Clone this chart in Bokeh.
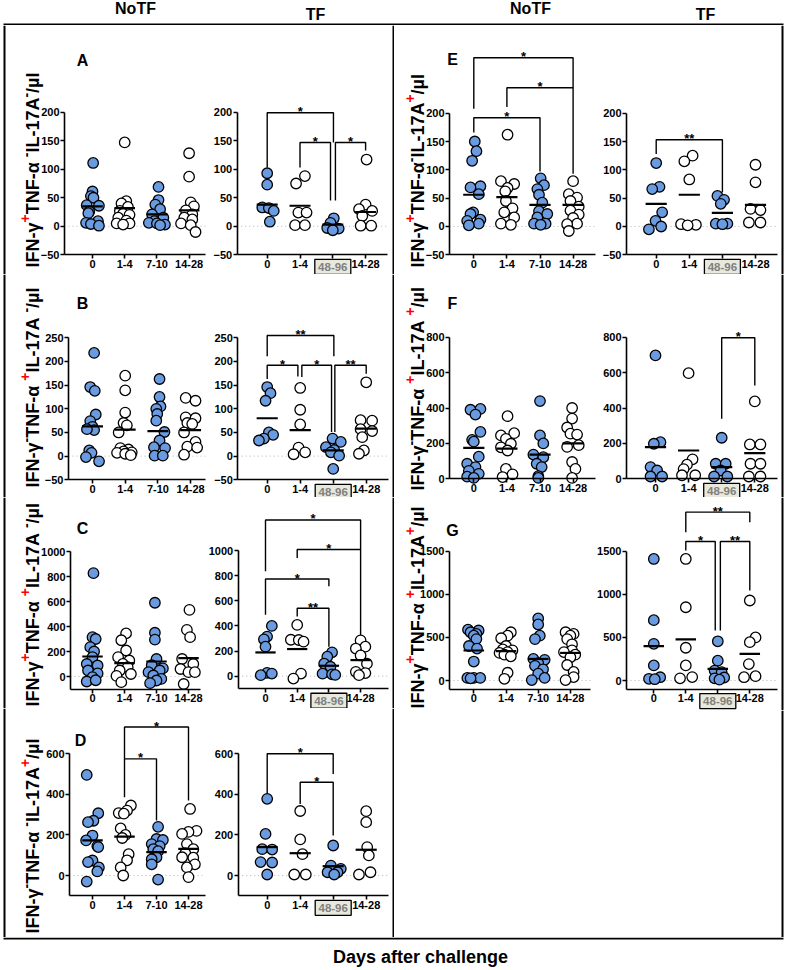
import math
from bokeh.plotting import figure
from bokeh.layouts import row, column
from bokeh.models import Range1d, FixedTicker, ColumnDataSource
from bokeh.core.properties import value, field
from bokeh.embed import file_html
from bokeh.resources import INLINE

FONT = "Liberation Sans"
BLUE = "#6a9be0"

# ------------------------------------------------------------------ data
NOTF_TICKS = ["0", "1-4", "7-10", "14-28"]
TF_TICKS = ["0", "1-4", "48-96", "14-28"]
HEADERS = ["NoTF", "TF", "NoTF", "TF"]
XTITLE = "Days after challenge"

# Panel A  IFN-g+ TNF-a- IL-17A-
A_notf_values = [[111, 61, 53, 50, 37, 36, 26, 23, 9, 6, 4, 1],
                 [147, 44, 40, 34, 27, 22, 20, 15, 10, 5, 5, 3],
                 [69, 46, 38, 30, 21, 15, 9, 6, 5, 3, 2],
                 [128, 87, 42, 35, 28, 21, 15, 12, 5, 2, -10]]
A_notf_offsets = [[0.02, 0, -0.05, 0.03, -0.18, 0.2, -0.1, -0.13, 0.17, -0.2, -0.05, 0.2],
                  [0, 0.05, -0.1, 0.1, -0.15, -0.05, 0.15, -0.2, 0.05, -0.25, 0.15, -0.05],
                  [0.05, 0.05, -0.05, 0.1, -0.15, 0.2, -0.08, -0.25, 0, 0.25, 0.1],
                  [0, 0, 0.05, 0.15, -0.1, 0.1, -0.15, 0.1, -0.25, 0.05, 0.2]]
A_notf_means = [35, 32, 21, 28]
A_tf_values = [[93, 73, 33, 32, 27, 8],
               [88, 75, 24, 24, 2, 2],
               [14, 6, -3, -4, -7],
               [117, 38, 30, 27, 18, 1, 1]]
A_tf_offsets = [[0, 0, -0.15, 0.05, 0.2, 0.08],
                [0.15, -0.12, -0.05, 0.2, -0.15, 0.15],
                [0.03, -0.07, -0.17, 0.18, 0],
                [0.03, 0, -0.2, 0.2, -0.1, -0.15, 0.17]]
A_tf_means = [38, 36, 3, 25]
A_tf_brackets = [(0, 2.02, 199, 103, 147, "*"),
                 (1, 1.93, 147, 103, 45, "*"),
                 (2.08, 3, 147, 45, 133, "*")]

# Panel B  IFN-g- TNF-a+ IL-17A-
B_notf_values = [[218, 146, 138, 88, 74, 62, 55, 57, 12, 7, -2, -11],
                 [170, 139, 92, 70, 65, 50, 17, 14, 10, 8, 7, 5, 2],
                 [163, 125, 105, 100, 89, 75, 51, 33, 19, 17, 1, 1],
                 [123, 117, 82, 80, 70, 68, 50, 30, 20, 18, 3]]
B_notf_offsets = [[0.05, -0.07, 0.07, 0.1, -0.07, 0, 0.05, -0.17, -0.1, -0.03, -0.2, 0.2],
                  [0, 0, 0, -0.05, 0.05, -0.2, -0.15, 0.1, -0.05, 0.2, -0.25, 0, 0.17],
                  [0.05, 0.05, 0.08, -0.05, -0.02, -0.05, 0.2, 0.05, -0.12, 0.22, -0.1, 0.15],
                  [-0.15, 0.15, -0.15, 0.15, -0.1, 0.05, -0.2, 0.15, -0.1, 0.2, -0.2]]
B_notf_means = [63, 56, 53, 55]
B_tf_values = [[146, 133, 117, 50, 45, 37, 33],
               [144, 98, 67, 18, 8, 4],
               [37, 30, 19, 13, 8, 1, -27],
               [156, 76, 75, 57, 53, 40, 12, 5]]
B_tf_offsets = [[0, 0.1, -0.05, 0.05, 0.18, -0.1, -0.25],
                [0, 0, 0, -0.05, 0.15, -0.2],
                [-0.02, 0.23, -0.22, 0.03, -0.07, 0.18, 0],
                [0, -0.17, 0.18, -0.17, 0.18, -0.12, -0.07, -0.22]]
B_tf_means = [80, 55, 12, 58]
B_tf_brackets = [(0, 2.02, 255, 211, 211, "**"),
                 (0, 0.93, 192, 163, 168, "*"),
                 (1.05, 1.95, 192, 167, 51, "*"),
                 (2.05, 3, 192, 51, 174, "**")]

# Panel C  IFN-g+ TNF-a+ IL-17A-
C_notf_values = [[827, 315, 300, 235, 200, 155, 100, 88, 48, 25, -5, -40, -30],
                 [345, 290, 208, 155, 128, 101, 75, 48, 20, 5, -45],
                 [590, 350, 295, 140, 90, 65, 48, 35, 8, -19, -32, -53],
                 [533, 373, 315, 140, 100, 60, 35, 35, -60]]
C_notf_offsets = [[0.03, 0, 0.1, -0.07, 0.05, 0, -0.18, 0.16, -0.14, 0.16, 0, -0.18, 0.1],
                  [0.05, -0.1, 0.05, -0.2, 0.15, -0.05, 0.1, -0.15, 0.2, -0.25, -0.1],
                  [-0.05, -0.05, -0.05, 0, -0.15, 0.2, 0.1, -0.25, -0.1, 0.15, 0, -0.2],
                  [0.03, -0.05, 0.05, -0.2, 0.15, -0.25, 0, 0.2, -0.15]]
C_notf_means = [160, 107, 120, 147]
C_tf_values = [[400, 315, 293, 235, 27, 21, 8],
               [408, 290, 288, 275, 21, -19],
               [190, 155, 100, 75, 20, 15, 10],
               [285, 235, 220, 165, 100, 35, 25, 8]]
C_tf_offsets = [[0.2, 0.05, -0.05, 0, 0.05, 0.2, -0.15],
                [0, -0.2, 0.05, 0.2, 0.12, -0.12],
                [0.1, -0.05, -0.15, 0.05, -0.2, 0.1, 0.2],
                [0, 0.15, -0.15, 0, 0.2, -0.15, 0.15, -0.05]]
C_tf_means = [189, 216, 83, 128]
C_tf_brackets = [(0, 3, 1243, 835, 1008, "*"),
                 (1, 3, 1008, 941, 328, "*"),
                 (0, 2, 773, 488, 715, "*"),
                 (1, 2, 541, 475, 235, "**")]

# Panel D  IFN-g- TNF-a- IL-17A+
D_notf_values = [[496, 307, 270, 263, 197, 173, 145, 140, 74, 66, 40, 20, -30],
                 [345, 320, 308, 305, 232, 200, 185, 105, 75, 40, 0],
                 [240, 180, 175, 155, 145, 130, 120, 90, 80, 55, -20],
                 [328, 220, 215, 205, 155, 130, 110, 90, 88, 55, 40, -8]]
D_notf_offsets = [[-0.18, 0.18, 0.03, -0.14, 0, -0.2, 0.15, 0.18, 0, -0.14, 0.2, 0.15, -0.18],
                  [0.2, 0.08, -0.18, -0.02, -0.12, 0.03, -0.07, 0.13, 0.08, -0.12, -0.04],
                  [0.05, 0, 0.2, -0.15, 0.1, -0.1, 0.05, 0, -0.15, -0.15, 0.05],
                  [0.05, 0.25, 0, -0.2, -0.05, 0.15, -0.1, -0.2, 0.15, 0.2, -0.05, 0]]
D_notf_means = [173, 192, 115, 131]
D_notf_brackets = [(1, 3, 732, 575, 370, "*"),
                   (1, 2, 575, 386, 271, "*")]
D_tf_values = [[378, 205, 130, 128, 66, 64, 5],
               [318, 178, 105, 5, 5],
               [148, 49, 33, 16, 16, 5],
               [317, 263, 140, 99, 16, 5]]
D_tf_offsets = [[0, -0.05, -0.15, 0.15, -0.2, 0.15, 0],
                [0, 0, 0.07, -0.18, 0.17],
                [0, -0.07, 0.23, -0.17, 0.13, 0.03],
                [0, 0, 0.03, 0.08, 0.13, -0.22]]
D_tf_means = [140, 110, 46, 127]
D_tf_brackets = [(0, 2, 600, 406, 501, "*"),
                 (1, 2, 460, 353, 197, "*")]

# Panel E  IFN-g+ TNF-a- IL-17A+
E_notf_values = [[150, 133, 116, 71, 69, 57, 25, 22, 12, 10, 5, 2],
                 [162, 80, 75, 68, 62, 45, 32, 25, 16, 5, 3],
                 [85, 73, 66, 56, 42, 27, 22, 16, 5, 5, 3],
                 [80, 57, 51, 45, 35, 28, 21, 15, 5, 4, -8]]
E_notf_offsets = [[0.03, 0.08, -0.05, 0.2, -0.1, 0.15, -0.02, -0.1, 0.2, -0.2, 0.15, -0.15],
                  [0.02, -0.18, 0.22, 0.02, -0.05, -0.03, 0.17, -0.08, 0.22, -0.18, 0.12],
                  [0.02, 0.12, -0.08, -0.03, 0.07, -0.03, 0.22, -0.08, -0.18, 0.17, 0.02],
                  [0, -0.13, 0.12, -0.08, 0.17, -0.08, 0.17, 0, 0.12, -0.18, -0.13]]
E_notf_means = [56, 52, 38, 38]
E_notf_brackets = [(0, 3, 298, 208, 245, "*"),
                   (1, 3, 245, 211, 93, "*"),
                   (0, 2, 192, 166, 97, "*")]
E_tf_values = [[112, 70, 66, 25, 10, 0, -5],
               [125, 115, 83, 4, 3, 2],
               [54, 47, 40, 5, 5, 4],
               [109, 78, 31, 29, 7, 7]]
E_tf_offsets = [[0, 0.1, -0.12, 0.18, -0.02, 0.15, -0.22],
                [0.1, -0.15, 0, -0.25, 0.2, -0.05],
                [-0.15, 0.05, -0.05, -0.2, 0.15, 0],
                [0, 0, -0.15, 0.15, -0.2, 0.15]]
E_tf_means = [40, 56, 24, 38]
E_tf_brackets = [(0, 2, 153, 128, 60, "**")]

# Panel F  IFN-g- TNF-a+ IL-17A+
F_notf_values = [[395, 390, 363, 265, 220, 210, 125, 85, 66, 45, 28, 12, 5],
                 [354, 258, 245, 226, 198, 178, 160, 56, 25, 10],
                 [439, 245, 200, 137, 122, 85, 66, 15, 5],
                 [400, 340, 290, 255, 250, 190, 180, 95, 56, 5]]
F_notf_offsets = [[0.2, -0.1, 0.05, 0.2, -0.05, 0, 0.15, -0.2, 0.05, -0.15, 0.15, -0.2, 0],
                  [0.02, 0.22, -0.18, -0.03, 0.12, -0.18, 0.02, -0.03, 0.17, -0.13],
                  [0, 0, 0.1, -0.2, 0.1, -0.1, 0.05, -0.05, -0.05],
                  [-0.03, -0.03, -0.18, -0.08, 0.12, 0.17, -0.18, -0.03, 0.07, -0.03]]
F_notf_means = [175, 170, 137, 200]
F_tf_values = [[697, 207, 198, 66, 47, 13, 13],
               [597, 110, 80, 55, 20, 20],
               [232, 85, 85, 47, 13, 13],
               [437, 194, 194, 85, 85, 13, 13]]
F_tf_offsets = [[0, 0.15, -0.05, -0.15, 0.05, -0.15, 0.2],
                [0, 0.12, -0.05, -0.15, -0.2, 0.2],
                [0, -0.18, 0.12, -0.03, -0.23, 0.17],
                [0, -0.15, 0.17, -0.13, 0.17, -0.18, 0.17]]
F_tf_means = [179, 160, 66, 145]
F_tf_brackets = [(2, 3, 797, 339, 527, "*")]

# Panel G  IFN-g+ TNF-a+ IL-17A+
G_notf_values = [[590, 580, 560, 540, 520, 480, 400, 370, 220, 30, 30, 30, 25],
                 [560, 520, 490, 400, 360, 350, 330, 320, 300, 280, 90, 20],
                 [720, 650, 520, 480, 250, 240, 200, 170, 130, 80, 30, 5],
                 [560, 540, 520, 480, 420, 350, 330, 300, 270, 180, 100, 40, 5]]
G_notf_offsets = [[-0.18, 0.15, -0.1, 0.08, 0, 0.08, -0.15, 0.1, 0, -0.2, 0, 0.2, -0.1],
                  [0.15, 0.05, -0.15, 0, -0.1, 0.2, 0.05, -0.2, -0.05, 0.15, 0.05, -0.05],
                  [0, 0, 0.05, -0.1, -0.15, 0.2, 0, -0.1, 0.15, 0, 0.2, -0.2],
                  [-0.15, 0.1, 0, -0.1, 0.05, 0.05, -0.2, 0.15, 0, -0.1, 0.1, 0.1, -0.15]]
G_notf_means = [348, 340, 250, 320]
G_tf_values = [[1410, 700, 425, 175, 38, 20, 15],
               [1410, 850, 380, 175, 40, 25],
               [455, 230, 115, 97, 35, 25, 10],
               [928, 500, 445, 190, 50, 38]]
G_tf_offsets = [[0, 0, 0, 0, 0.2, -0.15, 0.03],
                [0, 0, 0, 0, 0.2, -0.18],
                [0, 0, -0.1, 0.12, 0.2, -0.1, 0.05],
                [0, 0.18, 0, -0.03, 0.18, -0.18]]
G_tf_means = [398, 476, 135, 310]
G_tf_brackets = [(1, 3, 1953, 1720, 1836, "**"),
                 (1, 1.92, 1612, 1508, 580, "*"),
                 (2.08, 3, 1612, 580, 1044, "**")]

# y axis labels: (text, kind) kind m=main, p=red superscript plus, n=superscript minus
A_ylabel = [("IFN-γ", "m"), ("+", "p"), (" TNF-α", "m"), ("-", "n"), ("IL-17A", "m"), ("-", "n"), ("/µl", "m")]
B_ylabel = [("IFN-γ", "m"), ("-", "n"), (" TNF-α", "m"), ("+", "p"), (" IL-17A", "m"), ("-", "n"), (" /µl", "m")]
C_ylabel = [("IFN-γ", "m"), ("+", "p"), (" TNF-α", "m"), ("+", "p"), (" IL-17A", "m"), ("-", "n"), (" /µl", "m")]
D_ylabel = [("IFN-γ", "m"), ("-", "n"), (" TNF-α", "m"), ("-", "n"), ("IL-17A", "m"), ("+", "p"), (" /µl", "m")]
E_ylabel = [("IFN-γ", "m"), ("+", "p"), ("TNF-α", "m"), ("-", "n"), ("IL-17A", "m"), ("+", "p"), (" /µl", "m")]
F_ylabel = [("IFN-γ", "m"), ("-", "n"), (" TNF-α", "m"), ("+", "p"), (" IL-17A", "m"), ("+", "p"), (" /µl", "m")]
G_ylabel = [("IFN-γ", "m"), ("+", "p"), (" TNF-α", "m"), ("+", "p"), ("IL-17A", "m"), ("+", "p"), (" /µl", "m")]

# ------------------------------------------------------------------ layout (pixels)
Y_SMALL = [-50, 0, 50, 100, 150, 200]
GEOM = {
    "A_notf": dict(W=206, H=249, ax=64, c0=92, d=32.2, v1=200, py1=86.7, v2=-50, py2=229.3, ylo=-50, yhi=200, yticks=Y_SMALL, xend=205, vlines=[4]),
    "A_tf": dict(W=188, H=249, ax=30.7, c0=60.7, d=32.8, v1=200, py1=86.7, v2=-50, py2=229.3, ylo=-50, yhi=200, yticks=Y_SMALL, xend=181, vlines=[187]),
    "B_notf": dict(W=206, H=223, ax=68, c0=92, d=32.7, v1=250, py1=63.3, v2=-50, py2=205.3, ylo=-50, yhi=250, yticks=[-50, 0, 50, 100, 150, 200, 250], xend=205, vlines=[4]),
    "B_tf": dict(W=188, H=223, ax=31.3, c0=60.7, d=33, v1=250, py1=63.3, v2=-50, py2=205.3, ylo=-50, yhi=250, yticks=[-50, 0, 50, 100, 150, 200, 250], xend=182, vlines=[187]),
    "C_notf": dict(W=206, H=211, ax=70, c0=92, d=32, v1=1000, py1=54, v2=0, py2=179, ylo=-100, yhi=1000, yticks=[0, 200, 400, 600, 800, 1000], xend=200, vlines=[4]),
    "C_tf": dict(W=188, H=211, ax=31.7, c0=59, d=31.7, v1=1000, py1=53, v2=0, py2=178.7, ylo=-100, yhi=1000, yticks=[0, 200, 400, 600, 800, 1000], xend=182, vlines=[187]),
    "D_notf": dict(W=206, H=229, ax=69, c0=92, d=32, v1=600, py1=45.3, v2=0, py2=167, ylo=-100, yhi=600, yticks=[0, 200, 400, 600], xend=205, vlines=[4]),
    "D_tf": dict(W=188, H=229, ax=31.7, c0=60.7, d=33, v1=600, py1=45.3, v2=0, py2=167, ylo=-100, yhi=600, yticks=[0, 200, 400, 600], xend=182, vlines=[187]),
    "E_notf": dict(W=202, H=249, ax=55, c0=79.3, d=33.1, v1=200, py1=87.7, v2=-50, py2=229.3, ylo=-50, yhi=200, yticks=Y_SMALL, xend=201, vlines=[]),
    "E_tf": dict(W=191, H=249, ax=30, c0=59.7, d=33.1, v1=200, py1=87.7, v2=-50, py2=229.3, ylo=-50, yhi=200, yticks=Y_SMALL, xend=180.7, vlines=[186]),
    "F_notf": dict(W=202, H=223, ax=55, c0=79.3, d=33.1, v1=800, py1=62.7, v2=0, py2=204.3, ylo=0, yhi=800, yticks=[0, 200, 400, 600, 800], xend=201, vlines=[]),
    "F_tf": dict(W=191, H=223, ax=30, c0=59, d=33.1, v1=800, py1=62.7, v2=0, py2=204.3, ylo=0, yhi=800, yticks=[0, 200, 400, 600, 800], xend=180.7, vlines=[186]),
    "G_notf": dict(W=202, H=213, ax=55, c0=79.3, d=32.2, v1=1500, py1=53.7, v2=0, py2=183, ylo=-100, yhi=1500, yticks=[0, 500, 1000, 1500], xend=196, vlines=[]),
    "G_tf": dict(W=191, H=213, ax=30, c0=57.3, d=32, v1=1500, py1=53.7, v2=0, py2=183, ylo=-100, yhi=1500, yticks=[0, 500, 1000, 1500], xend=180.7, vlines=[186]),
}
LETTER_POS = {"A": (82, 35), "B": (82, 29), "C": (82, 31), "D": (80, 32),
              "E": (58, 34), "F": (58, 29), "G": (58, 33)}
YLABEL_POS = {"A": (32, 242), "B": (32, 213), "C": (32, 209), "D": (32, 225),
              "E": (23, 242), "F": (23, 216), "G": (23, 211)}
SUPER_LIFT = {"m": 0, "p": 8, "n": 7}

EM = {' ': .278, '-': .333, '/': .278, '+': .584, 'I': .278, 'F': .611, 'N': .722, 'T': .611,
      'L': .611, 'A': .722, '1': .556, '7': .556, 'l': .278, 'µ': .611, 'γ': .556, 'α': .617}


def text_width(t, size):
    return sum(EM.get(c, 0.6) for c in t) * size


def base_fig(W, H, xr, yr, axes=True):
    kw = {} if axes else dict(x_axis_location=None, y_axis_location=None)
    p = figure(width=W, height=H, x_range=xr, y_range=yr, output_backend="svg",
               toolbar_location=None, tools="", min_border=0, **kw)
    p.min_border_left = p.min_border_right = p.min_border_top = p.min_border_bottom = 0
    p.outline_line_color = None
    p.grid.visible = False
    p.background_fill_color = "white"
    p.border_fill_color = "white"
    return p


def make_panel(key, values, offsets, means, brackets, ticks, letter=None, ylabel=None):
    g = GEOM[key]
    W, H = g["W"], g["H"]
    s = (g["py2"] - g["py1"]) / (g["v1"] - g["v2"])
    xd = lambda px: (px - g["c0"]) / g["d"]
    yd = lambda py: g["v1"] - (py - g["py1"]) / s
    pyv = lambda v: g["py1"] + (g["v1"] - v) * s
    p = base_fig(W, H, Range1d(xd(0), xd(W)), Range1d(yd(H), yd(0)))
    boxed = "48-96" in ticks

    ya = p.yaxis[0]
    ya.fixed_location = xd(g["ax"])
    ya.bounds = (g["ylo"], g["yhi"])
    ya.ticker = FixedTicker(ticks=g["yticks"])
    xa = p.xaxis[0]
    xa.fixed_location = g["ylo"]
    xa.bounds = (xd(g["ax"]), xd(g["xend"]))
    xa.ticker = FixedTicker(ticks=[0, 1, 2, 3])
    xa.major_label_overrides = {i: ("" if (boxed and t == "48-96") else t) for i, t in enumerate(ticks)}
    for a in (xa, ya):
        a.axis_line_width = 1.6
        a.axis_line_color = "black"
        a.major_tick_line_width = 1.6
        a.major_tick_line_color = "black"
        a.major_tick_out = 4
        a.major_tick_in = 0
        a.minor_tick_out = 0
        a.minor_tick_in = 0
        a.major_label_text_font = FONT
        a.major_label_text_font_style = "bold"
        a.major_label_text_font_size = "11px"
        a.major_label_text_color = "black"
        a.major_label_standoff = 1

    # frame lines of the figure layout
    for vx in g["vlines"]:
        p.segment(x0=[xd(vx)], y0=[yd(H)], x1=[xd(vx)], y1=[yd(0)], line_color="black", line_width=2)

    if g["ylo"] < 0:
        p.segment(x0=[xd(g["ax"])], y0=[0], x1=[xd(g["xend"])], y1=[0],
                  line_color="#b8b8b8", line_width=1, line_dash="1 3")

    for gi in range(4):
        xs = [gi + o for o in offsets[gi]]
        p.scatter(xs, values[gi], marker="circle", size=10.5,
                  fill_color=BLUE if gi % 2 == 0 else "white",
                  line_color="black", line_width=1.3)
    p.segment(x0=[gi - 0.32 for gi in range(4)], y0=means,
              x1=[gi + 0.32 for gi in range(4)], y1=means,
              line_color="black", line_width=2.2)

    if brackets:
        xs = [[b[0], b[0], b[1], b[1]] for b in brackets]
        ys = [[b[3], b[2], b[2], b[4]] for b in brackets]
        p.multi_line(xs, ys, line_color="black", line_width=1.4)
        p.text(x=[(b[0] + b[1]) / 2 for b in brackets], y=[b[2] + 1.0 / s for b in brackets],
               text=[b[5] for b in brackets], text_align="center", text_baseline="alphabetic",
               text_font=value(FONT), text_font_style="bold", text_font_size="13px",
               text_color="black")

    if boxed:
        yb = yd(pyv(g["ylo"]) + 12)
        p.rect(x=[2], y=[yb], width=36, height=15, width_units="screen", height_units="screen",
               fill_color="#e8e8dc", line_color="black", line_width=1.3)
        p.text(x=[2], y=[yb], text=["48-96"], text_align="center", text_baseline="middle",
               text_font=value(FONT), text_font_style="bold", text_font_size="11.5px",
               text_color="#808080")

    if letter:
        lx, ly = LETTER_POS[letter]
        p.text(x=[xd(lx)], y=[yd(ly)], text=[letter], text_align="center", text_baseline="middle",
               text_font=value(FONT), text_font_style="bold", text_font_size="16px",
               text_color="black")

    if ylabel:
        xb, ystart = YLABEL_POS[letter]
        xs, ys, tx, sz, col = [], [], [], [], []
        cum = 0.0
        for t, kind in ylabel:
            size = 18 if kind == "m" else 14
            xs.append(xd(xb - SUPER_LIFT[kind]))
            ys.append(yd(ystart - cum))
            tx.append(t)
            sz.append(f"{size}px")
            col.append("#ff0000" if kind == "p" else "black")
            cum += text_width(t, size)
        src = ColumnDataSource(dict(x=xs, y=ys, text=tx, size=sz, color=col))
        p.text(x="x", y="y", text="text", source=src, angle=math.pi / 2,
               text_align="left", text_baseline="alphabetic",
               text_font=value(FONT), text_font_style="bold",
               text_font_size=field("size"), text_color=field("color"))
    return p


# header with top frame line
header = base_fig(787, 25, Range1d(0, 787), Range1d(0, 25), axes=False)
header.text(x=[135, 315, 530, 705], y=[17, 11, 17, 11], text=HEADERS, text_align="center",
            text_baseline="middle", text_font=value(FONT), text_font_style="bold",
            text_font_size="16px", text_color="black")
header.segment(x0=[3], y0=[1], x1=[783], y1=[1], line_color="black", line_width=2)

# footer with bottom frame line
footer = base_fig(787, 31, Range1d(0, 787), Range1d(0, 31), axes=False)
footer.segment(x0=[3], y0=[30], x1=[783], y1=[30], line_color="black", line_width=2)
footer.text(x=[420], y=[12], text=[XTITLE], text_align="center", text_baseline="middle",
            text_font=value(FONT), text_font_style="bold", text_font_size="18px",
            text_color="black")

# empty lower-right block (keeps the right frame line)
blank = base_fig(393, 227, Range1d(0, 393), Range1d(0, 227), axes=False)
blank.segment(x0=[388], y0=[0], x1=[388], y1=[227], line_color="black", line_width=2)

pA1 = make_panel("A_notf", A_notf_values, A_notf_offsets, A_notf_means, [], NOTF_TICKS, "A", A_ylabel)
pA2 = make_panel("A_tf", A_tf_values, A_tf_offsets, A_tf_means, A_tf_brackets, TF_TICKS)
pB1 = make_panel("B_notf", B_notf_values, B_notf_offsets, B_notf_means, [], NOTF_TICKS, "B", B_ylabel)
pB2 = make_panel("B_tf", B_tf_values, B_tf_offsets, B_tf_means, B_tf_brackets, TF_TICKS)
pC1 = make_panel("C_notf", C_notf_values, C_notf_offsets, C_notf_means, [], NOTF_TICKS, "C", C_ylabel)
pC2 = make_panel("C_tf", C_tf_values, C_tf_offsets, C_tf_means, C_tf_brackets, TF_TICKS)
pD1 = make_panel("D_notf", D_notf_values, D_notf_offsets, D_notf_means, D_notf_brackets, NOTF_TICKS, "D", D_ylabel)
pD2 = make_panel("D_tf", D_tf_values, D_tf_offsets, D_tf_means, D_tf_brackets, TF_TICKS)
pE1 = make_panel("E_notf", E_notf_values, E_notf_offsets, E_notf_means, E_notf_brackets, NOTF_TICKS, "E", E_ylabel)
pE2 = make_panel("E_tf", E_tf_values, E_tf_offsets, E_tf_means, E_tf_brackets, TF_TICKS)
pF1 = make_panel("F_notf", F_notf_values, F_notf_offsets, F_notf_means, [], NOTF_TICKS, "F", F_ylabel)
pF2 = make_panel("F_tf", F_tf_values, F_tf_offsets, F_tf_means, F_tf_brackets, TF_TICKS)
pG1 = make_panel("G_notf", G_notf_values, G_notf_offsets, G_notf_means, [], NOTF_TICKS, "G", G_ylabel)
pG2 = make_panel("G_tf", G_tf_values, G_tf_offsets, G_tf_means, G_tf_brackets, TF_TICKS)

left_col = column(row(pA1, pA2), row(pB1, pB2), row(pC1, pC2), row(pD1, pD2))
right_col = column(row(pE1, pE2), row(pF1, pF2), row(pG1, pG2), blank)
page = column(header, row(left_col, right_col), footer)

open("out.html", "w").write(file_html(page, INLINE))
